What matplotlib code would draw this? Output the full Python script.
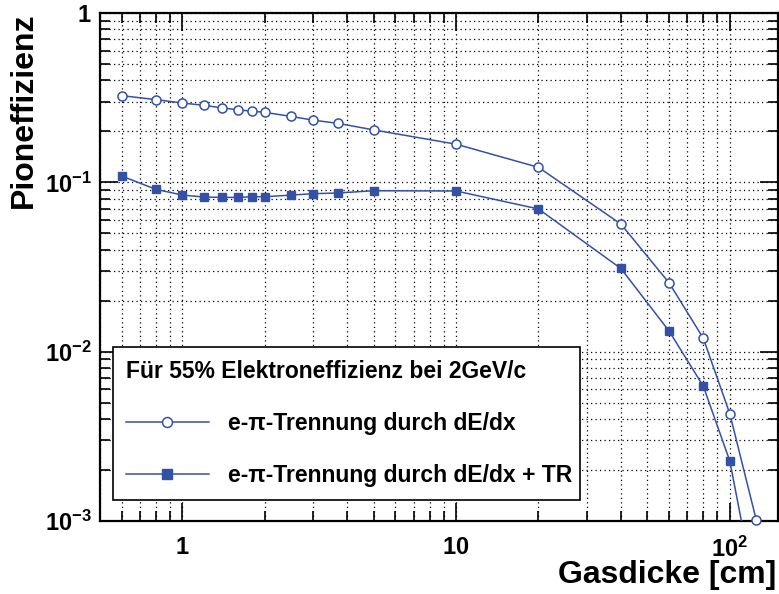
import matplotlib
matplotlib.use("Agg")
import matplotlib.pyplot as plt
from matplotlib.ticker import FixedLocator, FixedFormatter, LogLocator, NullFormatter

# gas thickness in cm
gasdicke = [0.6, 0.8, 1.0, 1.2, 1.4, 1.6, 1.8, 2.0, 2.5, 3.0, 3.7, 5.0, 10.0,
            20.0, 40.0, 60.0, 80.0, 100.0, 125.0]

# pion efficiency, dE/dx only
eff_dedx = [0.325, 0.308, 0.294, 0.285, 0.275, 0.268, 0.263, 0.259, 0.245,
            0.233, 0.223, 0.204, 0.168, 0.1226, 0.0567, 0.0255, 0.0120,
            0.0043, 0.00101]

# pion efficiency, dE/dx + TR
eff_dedx_tr = [0.109, 0.0909, 0.0841, 0.0819, 0.0815, 0.0815, 0.0822, 0.0822,
               0.0841, 0.0857, 0.0865, 0.0892, 0.0889, 0.0696, 0.0310,
               0.01324, 0.00626, 0.00226, 0.00035]

x_ticks = [1, 10, 100]
x_tick_labels = [r"$\mathbf{1}$", r"$\mathbf{10}$", r"$\mathbf{10^{2}}$"]
y_ticks = [1e-3, 1e-2, 1e-1, 1]
y_tick_labels = [r"$\mathbf{10^{-3}}$", r"$\mathbf{10^{-2}}$",
                 r"$\mathbf{10^{-1}}$", r"$\mathbf{1}$"]

BLUE = "#3352a6"

plt.rcParams["font.family"] = ["Liberation Sans", "DejaVu Sans"]
plt.rcParams["font.weight"] = "bold"
plt.rcParams["mathtext.fontset"] = "custom"
plt.rcParams["mathtext.rm"] = "Liberation Sans:bold"
plt.rcParams["mathtext.bf"] = "Liberation Sans:bold"
plt.rcParams["mathtext.it"] = "Liberation Sans:bold:italic"


def main():
    fig = plt.figure(figsize=(7.79, 5.94), dpi=100)
    ax = fig.add_axes([100 / 779, 73 / 594, 678 / 779, 508 / 594])

    ax.set_xscale("log")
    ax.set_yscale("log")
    ax.set_xlim(0.5, 150)
    ax.set_ylim(1e-3, 1)

    ax.plot(gasdicke, eff_dedx, color=BLUE, lw=1.1, marker="o", ms=6.5,
            mfc="white", mec=BLUE, mew=1.1, clip_on=False, zorder=4,
            label="e-π-Trennung durch dE/dx")
    ax.plot(gasdicke, eff_dedx_tr, color=BLUE, lw=1.1, marker="s", ms=6,
            mfc=BLUE, mec=BLUE, zorder=4,
            label="e-π-Trennung durch dE/dx + TR")

    # ticks and labels
    ax.xaxis.set_major_locator(FixedLocator(x_ticks))
    ax.xaxis.set_major_formatter(FixedFormatter(x_tick_labels))
    ax.xaxis.set_minor_locator(LogLocator(base=10, subs=range(2, 10), numticks=20))
    ax.xaxis.set_minor_formatter(NullFormatter())
    ax.yaxis.set_major_locator(FixedLocator(y_ticks))
    ax.yaxis.set_major_formatter(FixedFormatter(y_tick_labels))
    ax.yaxis.set_minor_locator(LogLocator(base=10, subs=range(2, 10), numticks=20))
    ax.yaxis.set_minor_formatter(NullFormatter())

    ax.tick_params(which="both", direction="in", top=True, right=True,
                   width=1.2, labelsize=17)
    ax.tick_params(which="major", length=13)
    ax.tick_params(which="minor", length=7)
    ax.tick_params(axis="x", which="major", pad=11)
    ax.tick_params(axis="y", which="major", pad=6)

    for sp in ax.spines.values():
        sp.set_linewidth(1.6)

    ax.grid(True, which="both", color="black", lw=0.9, ls=(0, (1, 2.6)))
    ax.set_axisbelow(True)

    leg = ax.legend(loc="lower left", bbox_to_anchor=(13 / 678, 21 / 508, 467 / 678, 0.3),
                    mode="expand", borderaxespad=0, fontsize=16.5,
                    title="Für 55% Elektroneffizienz bei 2GeV/c",
                    title_fontsize=16.5, alignment="left", fancybox=False,
                    edgecolor="black", framealpha=1, numpoints=1,
                    markerscale=1.1, handlelength=3.6, handletextpad=0.85,
                    borderpad=0.57, labelspacing=1.26)
    leg.get_frame().set_linewidth(1.2)
    leg.get_title().set_fontweight("bold")

    fig.text(24 / 779, 1 - 13 / 594, "Pioneffizienz", rotation=90,
             ha="center", va="top", fontsize=23, fontweight="bold")
    fig.text(776 / 779, 1 - 575 / 594, "Gasdicke [cm]", ha="right",
             va="center", fontsize=23, fontweight="bold")

    fig.savefig("out.png", dpi=100)


if __name__ == "__main__":
    main()
